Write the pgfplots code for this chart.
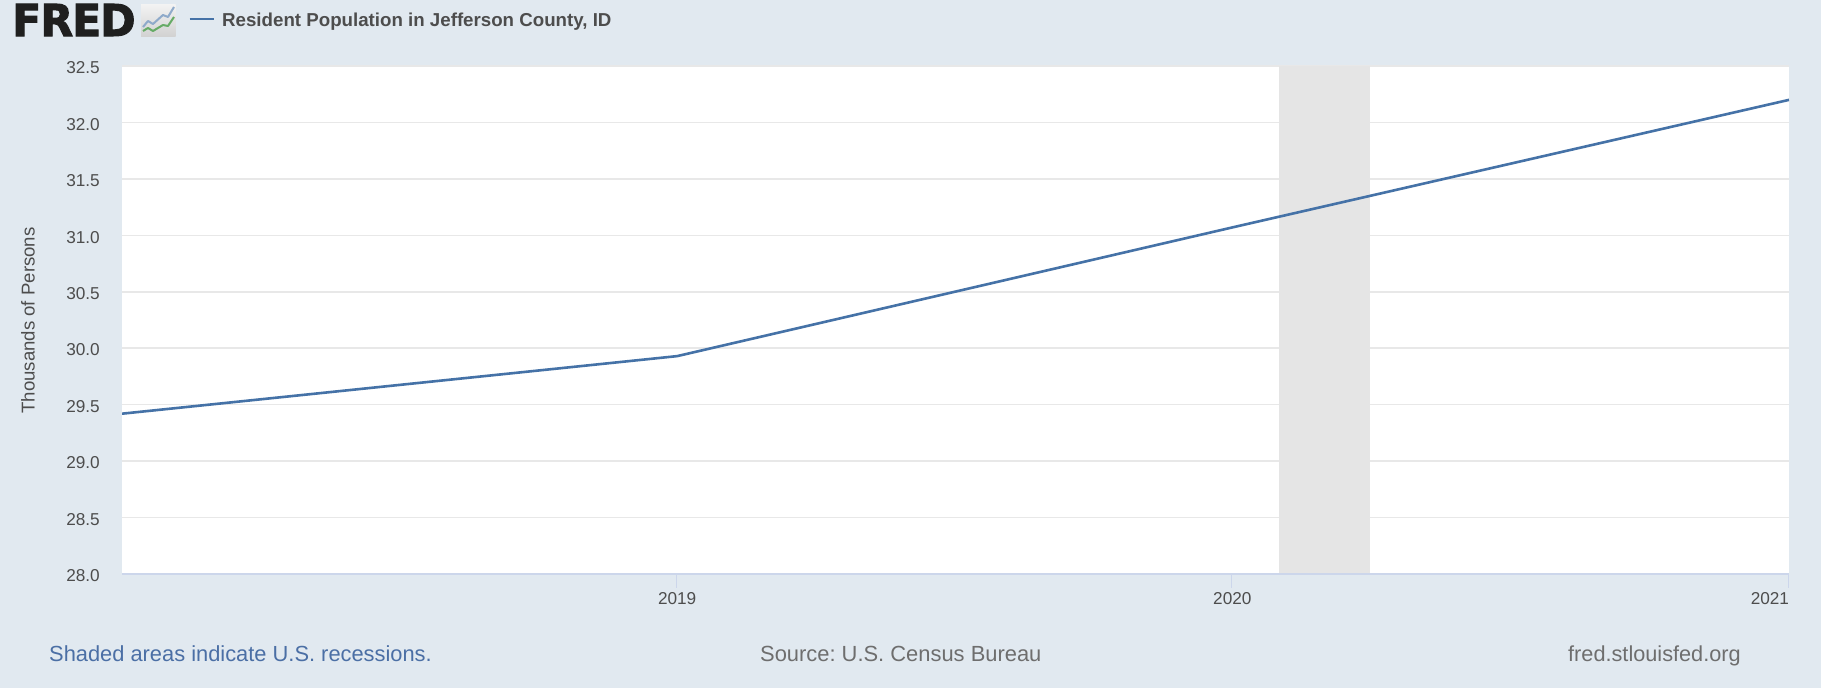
\documentclass[border=0pt]{standalone}
\usepackage{fontspec}
\setmainfont{Liberation Sans}
\newfontfamily\logofont[BoldFeatures={FakeBold=2.2,LetterSpace=-2.5}]{DejaVu Sans}
\usepackage{pgfplots}
\pgfplotsset{compat=1.18}
\definecolor{bgc}{HTML}{E1E9F0}
\definecolor{linec}{HTML}{4572A7}
\definecolor{gridc}{HTML}{E8E8E8}
\definecolor{axc}{HTML}{CCD6EB}
\definecolor{txt}{HTML}{4D4D4D}
\definecolor{rec}{HTML}{E5E5E5}
\definecolor{srcc}{HTML}{6E6E6E}
\definecolor{blu}{HTML}{4B6FA5}
\frenchspacing
\begin{document}
\begin{tikzpicture}[x=1pt,y=1pt]
\fill[bgc] (0,0) rectangle (1821,688);
\begin{axis}[
  at={(122pt,114pt)},anchor=south west,
  scale only axis,width=1667pt,height=508pt,
  xmin=0,xmax=1096,ymin=28,ymax=32.5,
  axis background/.style={fill=white},
  axis line style={draw=none},
  axis x line*=bottom, axis y line*=left,
  xtick={365,730,1096},xticklabels={2019,2020,\makebox[0pt][r]{2021}},
  ytick={28,28.5,...,32.5},
  yticklabels={28.0,28.5,29.0,29.5,30.0,30.5,31.0,31.5,32.0,32.5},
  ymajorgrids,
  grid style={draw=gridc,line width=1.6pt},
  major tick length=0pt,
  tick label style={font=\fontsize{17.2}{20}\selectfont,text=txt,inner sep=0pt},
  yticklabel style={xshift=-22pt,yshift=-1.8pt,anchor=east},
  xticklabel style={yshift=-18pt,anchor=north},
  xlabel={},ylabel={},
  clip=true,
  /pgf/number format/assume math mode=true,
]
\addplot[draw=none,fill=rec] coordinates {(761,28)(761,32.5)(820.5,32.5)(820.5,28)} --cycle;
\addplot[linec,line width=2.6pt,line join=round] coordinates {(0,29.42)(365,29.93)(730,31.07)(1096,32.20)};
\end{axis}
\draw[axc,line width=1.5pt] (122,114) -- (1789,114);
\foreach \x in {676,1231,1788.5}\draw[axc,line width=1pt] (\x,114) -- (\x,100);
\node[inner sep=0,rotate=90,anchor=base,font=\fontsize{18.6}{20}\selectfont,text=txt] at (34.5,367.5) {Thousands of Persons};
\node[anchor=west,inner sep=0,font=\logofont\fontsize{44}{44}\selectfont\bfseries,text=black!88,xscale=0.97] at (12,668) {FRED};
\shade[top color=black!5,bottom color=black!18] (141,651) rectangle (175.5,683);
\draw[linec!60!white,line width=2pt,line join=round] (143,661) -- (148,667) -- (153,664) -- (163,673) -- (168,671) -- (174,681);
\draw[green!45!black!60,line width=2pt,line join=round] (143,657) -- (148,660) -- (153,657) -- (163,663) -- (168,662) -- (174,671);
\draw[linec,line width=2.6pt] (189.5,669) -- (214,669);
\node[anchor=base west,inner sep=0,font=\fontsize{18.7}{20}\selectfont\bfseries,text=txt] at (222,661.5) {Resident Population in Jefferson County, ID};
\node[anchor=base west,inner sep=0,font=\fontsize{21.85}{24}\selectfont,text=blu] at (49,26.5) {Shaded areas indicate U.S. recessions.};
\node[anchor=base west,inner sep=0,font=\fontsize{21.9}{24}\selectfont,text=srcc] at (760,26.5) {Source: U.S. Census Bureau};
\node[anchor=base west,inner sep=0,font=\fontsize{21.7}{24}\selectfont,text=srcc] at (1568,26.5) {fred.stlouisfed.org};
\end{tikzpicture}
\end{document}
